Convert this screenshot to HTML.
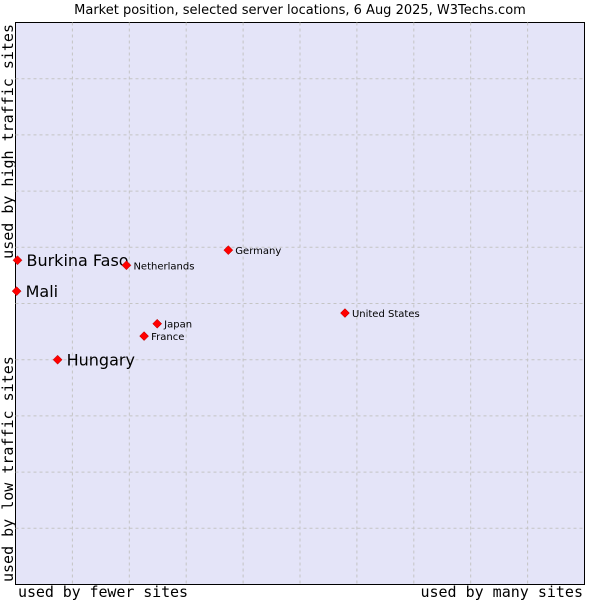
<!DOCTYPE html>
<html><head><meta charset="utf-8"><style>
body{margin:0;background:#fff;font-family:"DejaVu Sans",sans-serif}
</style></head><body>
<svg width="600" height="600" xmlns="http://www.w3.org/2000/svg">
<text x="300" y="14" text-anchor="middle" font-size="13" font-family="DejaVu Sans, sans-serif">Market position, selected server locations, 6 Aug 2025, W3Techs.com</text>
<rect x="15.5" y="22.5" width="569" height="562" fill="#e4e4f8" stroke="#000"/>
<g id="grid"></g>
<g id="pts"></g>
<text x="18" y="597" font-size="15" font-family="DejaVu Sans Mono, monospace" textLength="170">used by fewer sites</text>
<text x="583" y="597" text-anchor="end" font-size="15" font-family="DejaVu Sans Mono, monospace">used by many sites</text>
<text transform="translate(13,582) rotate(-90)" font-size="15" font-family="DejaVu Sans Mono, monospace">used by low traffic sites</text>
<text transform="translate(13,24) rotate(-90)" text-anchor="end" font-size="15" font-family="DejaVu Sans Mono, monospace">used by high traffic sites</text>
</svg>
<script>
const names=["Burkina Faso","Mali","Hungary","Netherlands","Germany","Japan","France","United States"];
const xVals=[0.35,0.2,7.4,19.5,37.4,24.9,22.6,57.9];
const yVals=[57.7,52.2,40.0,56.8,59.5,46.4,44.2,48.3];
const highlighted=[true,true,true,false,false,false,false,false];
const X0=15.5,X1=584.5,Y0=584.5,Y1=22.5;
const sx=v=>X0+v/100*(X1-X0), sy=v=>Y0-v/100*(Y0-Y1);
const NS="http://www.w3.org/2000/svg";
const grid=document.getElementById('grid');
for(let i=1;i<10;i++){
  const v=document.createElementNS(NS,'line');
  
  
  v.setAttribute('x1',sx(i*10));v.setAttribute('x2',sx(i*10));v.setAttribute('y1',Y1);v.setAttribute('y2',Y0);
  v.setAttribute('stroke','#c4c4c4');v.setAttribute('stroke-dasharray','3,3');grid.appendChild(v);
  const h=document.createElementNS(NS,'line');
  
  
  h.setAttribute('y1',sy(i*10));h.setAttribute('y2',sy(i*10));h.setAttribute('x1',X0);h.setAttribute('x2',X1);
  h.setAttribute('stroke','#c4c4c4');h.setAttribute('stroke-dasharray','3,3');grid.appendChild(h);
}
const pts=document.getElementById('pts');
names.forEach((n,i)=>{
  const x=sx(xVals[i]),y=sy(yVals[i]);
  const d=document.createElementNS(NS,'polygon');
  
  
  d.setAttribute('points',`${x},${y-4.5} ${x+4.5},${y} ${x},${y+4.5} ${x-4.5},${y}`);
  d.setAttribute('fill','#ff0000');d.setAttribute('stroke','#b00000');d.setAttribute('stroke-width','0.5');
  pts.appendChild(d);
  const t=document.createElementNS(NS,'text');
  
  
  const big=highlighted[i];
  t.setAttribute('x',x+(big?9:7));t.setAttribute('y',y+(big?6:4));
  t.setAttribute('font-size',big?16:10);
  t.setAttribute('font-family','DejaVu Sans, sans-serif');
  t.textContent=n;pts.appendChild(t);
});
</script>
</body></html>
